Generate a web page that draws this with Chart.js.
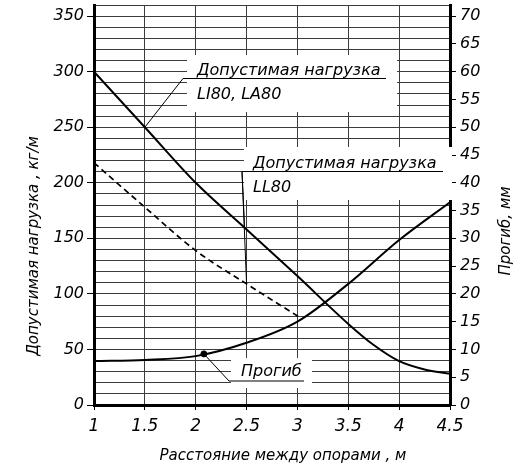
<!DOCTYPE html>
<html>
<head>
<meta charset="utf-8">
<script src="https://cdn.jsdelivr.net/npm/chart.js@4.4.1/dist/chart.umd.min.js"></script>
<style>
  html, body { margin: 0; padding: 0; background: #fff; }
  #wrap { width: 524px; height: 467px; }
</style>
</head>
<body>
<div id="wrap"><canvas id="grafica"></canvas></div>
<script>
// Допустимая нагрузка LI80, LA80 (кг/м)
const spanX = [1, 1.5, 2, 2.5, 3, 3.5, 3.75, 4, 4.25, 4.5];
const loadLI = [300, 250, 200, 158, 116, 73, 54, 39.5, 32, 28];

// Допустимая нагрузка LL80 (кг/м), пунктир
const spanLL = [1, 1.5, 2, 2.5, 3.02];
const loadLL = [218, 178, 139, 109, 79];

// Прогиб (мм), правая ось
const spanDef = [1, 1.5, 2, 2.5, 3, 3.5, 4, 4.5];
const deflection = [7.9, 8.1, 8.8, 11.2, 15, 21.8, 29.7, 36.5];

// точка на кривой прогиба
const dotX = [2.08];
const dotY = [9.2];

const FONT = '"DejaVu Sans", Verdana, sans-serif';
const GRID = '#3c3c3c';

const pts = (xs, ys) => xs.map((x, i) => ({ x: x, y: ys[i] }));

function fixSize(w, h) {
    return function (scale) {
        if (w) scale.width = w;
        if (h) scale.height = h;
        scale.paddingTop = 0;
        scale.paddingBottom = 0;
        scale.paddingLeft = 0;
        scale.paddingRight = 0;
    };
}

// белые подложки под подписи
const boxes = {
    id: 'boxes',
    beforeDatasetsDraw(chart) {
        const c = chart.ctx;
        c.save();
        c.fillStyle = '#fff';
        c.fillRect(187, 55, 210, 57);
        c.fillRect(244, 147, 208, 53);
        c.fillRect(231, 358, 81, 30);
        c.restore();
    },
    afterDatasetsDraw(chart) {
        const c = chart.ctx;
        const sx = chart.scales.x, sy = chart.scales.y, s2 = chart.scales.y2;
        c.save();
        c.fillStyle = '#000';
        c.strokeStyle = '#000';
        c.lineWidth = 1;
        c.font = 'italic 16px ' + FONT;
        c.textBaseline = 'alphabetic';
        c.textAlign = 'left';

        // LI80, LA80
        c.fillText('Допустимая нагрузка', 197, 75);
        c.fillText('LI80, LA80', 197, 99);
        c.beginPath();
        c.moveTo(sx.getPixelForValue(1.5), sy.getPixelForValue(250));
        c.lineTo(183, 78.5);
        c.lineTo(386, 78.5);
        c.stroke();

        // LL80
        c.fillText('Допустимая нагрузка', 253, 168);
        c.fillText('LL80', 253, 192);
        c.beginPath();
        c.moveTo(443, 171.5);
        c.lineTo(242, 171.5);
        c.lineTo(sx.getPixelForValue(2.48), sy.getPixelForValue(160));
        c.moveTo(242, 171.5);
        c.lineTo(sx.getPixelForValue(2.5), sy.getPixelForValue(109));
        c.stroke();

        // Прогиб
        c.fillText('Прогиб', 241, 376);
        c.beginPath();
        c.moveTo(sx.getPixelForValue(dotX[0]), s2.getPixelForValue(dotY[0]));
        c.lineTo(229, 381);
        c.lineTo(304, 381);
        c.stroke();
        c.restore();
    },
    afterDraw(chart) {
        const c = chart.ctx;
        c.save();
        c.fillStyle = '#000';
        c.font = 'italic 15px ' + FONT;
        c.textAlign = 'center';
        c.textBaseline = 'middle';
        c.fillText('Расстояние между опорами , м', 283, 456);

        c.translate(34, 246);
        c.rotate(-Math.PI / 2);
        c.fillText('Допустимая нагрузка , кг/м', 0, 0);
        c.restore();

        c.save();
        c.fillStyle = '#000';
        c.font = 'italic 15px ' + FONT;
        c.textAlign = 'center';
        c.textBaseline = 'middle';
        c.translate(506, 231);
        c.rotate(-Math.PI / 2);
        c.fillText('Прогиб, мм', 0, 0);
        c.restore();
    }
};

new Chart(document.getElementById('grafica'), {
    type: 'line',
    data: {
        datasets: [
            {
                label: 'LI80, LA80',
                data: pts(spanX, loadLI),
                yAxisID: 'y',
                borderColor: '#000',
                borderWidth: 2,
                pointRadius: 0,
                cubicInterpolationMode: 'monotone',
            },
            {
                label: 'LL80',
                data: pts(spanLL, loadLL),
                yAxisID: 'y',
                borderColor: '#000',
                borderWidth: 1.7,
                borderDash: [6, 4],
                pointRadius: 0,
                cubicInterpolationMode: 'monotone',
            },
            {
                label: 'Прогиб',
                data: pts(spanDef, deflection),
                yAxisID: 'y2',
                borderColor: '#000',
                borderWidth: 2,
                pointRadius: 0,
                cubicInterpolationMode: 'monotone',
            },
            {
                label: 'точка',
                data: pts(dotX, dotY),
                yAxisID: 'y2',
                showLine: false,
                pointRadius: 3,
                pointBackgroundColor: '#000',
                pointBorderColor: '#000',
            },
        ],
    },
    options: {
        responsive: true,
        maintainAspectRatio: false,
        animation: false,
        layout: { padding: { top: 4, left: 0, right: 0, bottom: 0 } },
        plugins: { legend: { display: false }, tooltip: { enabled: false } },
        scales: {
            x: {
                type: 'linear',
                min: 1,
                max: 4.5,
                afterFit: fixSize(0, 62),
                ticks: {
                    stepSize: 0.5,
                    autoSkip: false,
                    maxRotation: 0,
                    color: '#000',
                    padding: 6,
                    font: { family: FONT, size: 17, style: 'italic' },
                    callback: (v) => String(v),
                },
                grid: { color: GRID, tickColor: '#000', tickLength: 5 },
                border: { color: '#000', width: 3 },
            },
            y: {
                position: 'left',
                min: 0,
                max: 360,
                afterFit: fixSize(94, 0),
                ticks: {
                    stepSize: 10,
                    autoSkip: false,
                    color: '#000',
                    padding: 3,
                    font: { family: FONT, size: 16, style: 'italic' },
                    callback: (v) => (v % 50 === 0 ? String(v) : ''),
                },
                grid: {
                    color: GRID,
                    tickLength: 7,
                    tickColor: (ctx) => (ctx.tick && ctx.tick.value % 50 === 0 ? '#000' : 'rgba(0,0,0,0)'),
                },
                border: { color: '#000', width: 3 },
            },
            y2: {
                position: 'right',
                min: 0,
                max: 72,
                afterFit: fixSize(74, 0),
                ticks: {
                    stepSize: 5,
                    autoSkip: false,
                    includeBounds: false,
                    color: '#000',
                    padding: 4,
                    font: { family: FONT, size: 16, style: 'italic' },
                },
                grid: { drawOnChartArea: false, tickColor: '#000', tickLength: 6 },
                border: { color: '#000', width: 3 },
            },
        },
    },
    plugins: [boxes],
});
</script>
</body>
</html>
